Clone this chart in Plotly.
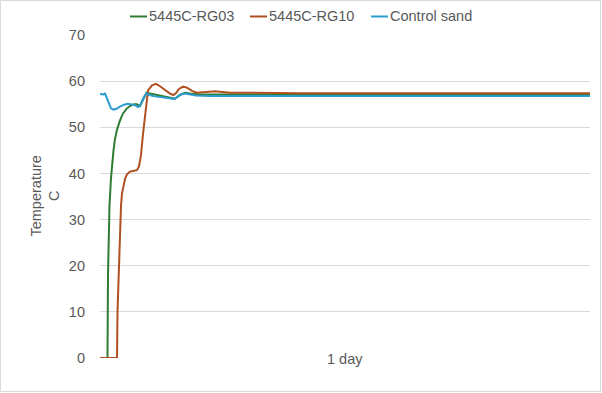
import plotly.graph_objects as go

# Time in hours (x axis spans one day), temperature in °C
rg03_t = [0, 0.367, 0.392, 0.416, 0.465, 0.539, 0.588, 0.661, 0.735, 0.833, 0.980, 1.127,
          1.298, 1.469, 1.665, 1.812, 1.959, 2.106, 2.278, 2.449, 2.939, 3.429, 3.673,
          3.918, 4.163, 4.408, 4.898, 7.347, 24]
rg03_v = [0, 0, 18, 26, 33, 39, 42, 45, 47.5, 49.5, 51.5, 53, 54, 54.6, 55, 55, 54.6,
          55.8, 57.5, 57.3, 56.9, 56.5, 56.2, 57.0, 57.5, 57.3, 57.1, 57.1, 57.1]

rg10_t = [0, 0.833, 0.857, 0.882, 0.931, 0.980, 1.029, 1.078, 1.151, 1.224, 1.322, 1.469,
          1.665, 1.812, 1.910, 2.008, 2.106, 2.204, 2.278, 2.351, 2.547, 2.743, 2.939,
          3.184, 3.429, 3.600, 3.722, 3.869, 4.065, 4.261, 4.506, 4.751, 5.143, 5.633,
          6.367, 9.796, 24]
rg10_v = [0, 0, 10, 14, 22, 30, 33, 35.7, 37.5, 38.8, 39.8, 40.4, 40.6, 40.7, 41.5, 44,
          48.5, 52.5, 56, 58, 59.1, 59.4, 58.9, 58.0, 57.3, 57.0, 57.4, 58.3, 58.8, 58.6,
          57.9, 57.5, 57.6, 57.8, 57.5, 57.4, 57.4]

sand_t = [0, 0.147, 0.245, 0.343, 0.441, 0.539, 0.661, 0.808, 0.980, 1.176, 1.371, 1.567,
          1.714, 1.861, 1.959, 2.057, 2.155, 2.278, 2.400, 2.694, 3.184, 3.429, 3.624,
          3.771, 3.967, 4.163, 4.359, 4.702, 5.388, 24]
sand_v = [57.2, 57.1, 57.3, 56.3, 54.9, 54.1, 53.8, 54.0, 54.5, 54.9, 55.1, 55.0, 54.8,
          54.4, 54.7, 55.6, 56.6, 57.3, 57.0, 56.7, 56.5, 56.3, 56.1, 56.5, 57.1, 57.3,
          57.1, 56.9, 56.8, 56.8]

series_names = ["5445C-RG03", "5445C-RG10", "Control sand"]
series_colors = ["#2e7d32", "#b05020", "#2b9bd0"]
y_ticks = [0, 10, 20, 30, 40, 50, 60, 70]
x_label = "1 day"

FONT = "Liberation Sans, Arial, sans-serif"
GREY = "#595959"
FS = 14.5

fig = go.Figure()
for name, t, v, c in zip(series_names, [rg03_t, rg10_t, sand_t],
                         [rg03_v, rg10_v, sand_v], series_colors):
    fig.add_trace(go.Scatter(x=t, y=v, mode="lines", name=name,
                             line=dict(color=c, width=2)))

fig.update_layout(
    width=602, height=393,
    margin=dict(l=100, r=12, t=35, b=35, autoexpand=False),
    paper_bgcolor="white", plot_bgcolor="white",
    font=dict(family=FONT, size=FS, color=GREY),
    showlegend=False,
    xaxis=dict(range=[0, 24], showgrid=False, showticklabels=False, zeroline=False,
               showline=False, ticks=""),
    yaxis=dict(range=[0, 70], tickvals=y_ticks, showgrid=True, gridcolor="#d9d9d9",
               gridwidth=1, zeroline=False, showline=False, ticks="",
               ticklabelstandoff=14,
               tickfont=dict(family=FONT, size=FS, color=GREY)),
)

# custom legend (Excel-style short line samples), positions in paper units
legend_sample_x = [(0.0612, 0.0959), (0.3061, 0.3408), (0.5531, 0.5878)]
legend_y = 1.0573
for name, c, (x0, x1) in zip(series_names, series_colors, legend_sample_x):
    fig.add_shape(type="line", xref="paper", yref="paper", x0=x0, x1=x1,
                  y0=legend_y, y1=legend_y, line=dict(color=c, width=2))
    fig.add_annotation(x=x1, xref="paper", y=legend_y + 0.003, yref="paper", text=name,
                       showarrow=False, xanchor="left", yanchor="middle",
                       font=dict(family=FONT, size=FS, color=GREY))

fig.add_annotation(x=0.5, xref="paper", y=0, yref="y", text=x_label, showarrow=False,
                   xanchor="center", yanchor="middle", yshift=-1,
                   font=dict(family=FONT, size=FS, color=GREY))
fig.add_annotation(x=-0.1122, xref="paper", y=0.5, yref="paper", text="Temperature<br>C",
                   textangle=-90, showarrow=False, xanchor="center", yanchor="middle",
                   font=dict(family=FONT, size=FS, color=GREY))

# chart-area border
fig.add_shape(type="rect", xref="paper", yref="paper", x0=-0.2031, x1=1.0214,
              y0=-0.1037, y1=1.1068, line=dict(color="#d9d9d9", width=1), layer="below")

fig.write_html("out.html")
